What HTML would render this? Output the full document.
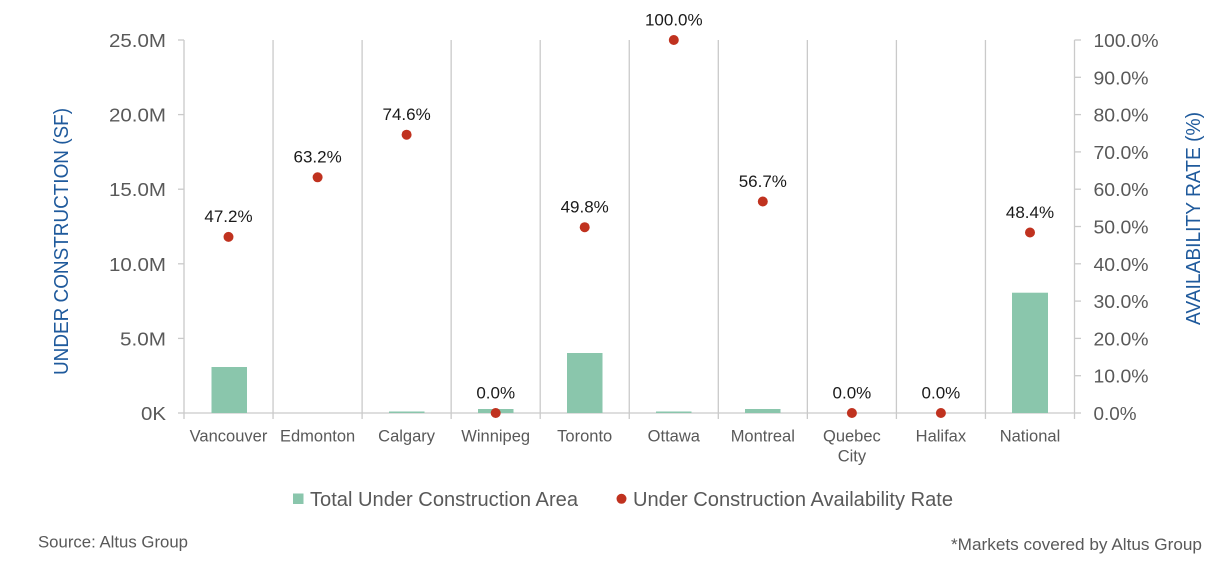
<!DOCTYPE html>
<html>
<head>
<meta charset="utf-8">
<style>
html,body{margin:0;padding:0;background:#fff;}
svg{display:block;}
text{font-family:"Liberation Sans",Arial,sans-serif;}
</style>
</head>
<body>
<svg width="1226" height="562" viewBox="0 0 1226 562" xmlns="http://www.w3.org/2000/svg">
<rect width="1226" height="562" fill="#fff"/>
<!-- grid / separators -->
<g stroke="#cacaca" stroke-width="1.3" fill="none">
  <line x1="184" y1="40" x2="184" y2="419"/>
  <line x1="1074.5" y1="40" x2="1074.5" y2="419"/>
  <line x1="273.05" y1="40" x2="273.05" y2="419"/>
  <line x1="362.1" y1="40" x2="362.1" y2="419"/>
  <line x1="451.15" y1="40" x2="451.15" y2="419"/>
  <line x1="540.2" y1="40" x2="540.2" y2="419"/>
  <line x1="629.25" y1="40" x2="629.25" y2="419"/>
  <line x1="718.3" y1="40" x2="718.3" y2="419"/>
  <line x1="807.35" y1="40" x2="807.35" y2="419"/>
  <line x1="896.4" y1="40" x2="896.4" y2="419"/>
  <line x1="985.45" y1="40" x2="985.45" y2="419"/>
  <line x1="184" y1="413" x2="1074.5" y2="413"/>
  <!-- left ticks -->
  <line x1="178" y1="40" x2="184" y2="40"/>
  <line x1="178" y1="114.6" x2="184" y2="114.6"/>
  <line x1="178" y1="189.2" x2="184" y2="189.2"/>
  <line x1="178" y1="263.8" x2="184" y2="263.8"/>
  <line x1="178" y1="338.4" x2="184" y2="338.4"/>
  <line x1="178" y1="413" x2="184" y2="413"/>
  <!-- right ticks -->
  <line x1="1074.5" y1="40" x2="1081" y2="40"/>
  <line x1="1074.5" y1="77.3" x2="1081" y2="77.3"/>
  <line x1="1074.5" y1="114.6" x2="1081" y2="114.6"/>
  <line x1="1074.5" y1="151.9" x2="1081" y2="151.9"/>
  <line x1="1074.5" y1="189.2" x2="1081" y2="189.2"/>
  <line x1="1074.5" y1="226.5" x2="1081" y2="226.5"/>
  <line x1="1074.5" y1="263.8" x2="1081" y2="263.8"/>
  <line x1="1074.5" y1="301.1" x2="1081" y2="301.1"/>
  <line x1="1074.5" y1="338.4" x2="1081" y2="338.4"/>
  <line x1="1074.5" y1="375.7" x2="1081" y2="375.7"/>
  <line x1="1074.5" y1="413" x2="1081" y2="413"/>
</g>

<!-- left tick labels -->
<g fill="#595959" font-size="18" text-anchor="end">
  <text x="166" y="47" textLength="57" lengthAdjust="spacingAndGlyphs">25.0M</text>
  <text x="166" y="121.6" textLength="57" lengthAdjust="spacingAndGlyphs">20.0M</text>
  <text x="166" y="196.2" textLength="57" lengthAdjust="spacingAndGlyphs">15.0M</text>
  <text x="166" y="270.8" textLength="57" lengthAdjust="spacingAndGlyphs">10.0M</text>
  <text x="166" y="345.4" textLength="46" lengthAdjust="spacingAndGlyphs">5.0M</text>
  <text x="166" y="420" textLength="25" lengthAdjust="spacingAndGlyphs">0K</text>
</g>
<!-- right tick labels -->
<g fill="#595959" font-size="18">
  <text x="1093.5" y="47" textLength="65" lengthAdjust="spacingAndGlyphs">100.0%</text>
  <text x="1093.5" y="84.3" textLength="55" lengthAdjust="spacingAndGlyphs">90.0%</text>
  <text x="1093.5" y="121.6" textLength="55" lengthAdjust="spacingAndGlyphs">80.0%</text>
  <text x="1093.5" y="158.9" textLength="55" lengthAdjust="spacingAndGlyphs">70.0%</text>
  <text x="1093.5" y="196.2" textLength="55" lengthAdjust="spacingAndGlyphs">60.0%</text>
  <text x="1093.5" y="233.5" textLength="55" lengthAdjust="spacingAndGlyphs">50.0%</text>
  <text x="1093.5" y="270.8" textLength="55" lengthAdjust="spacingAndGlyphs">40.0%</text>
  <text x="1093.5" y="308.1" textLength="55" lengthAdjust="spacingAndGlyphs">30.0%</text>
  <text x="1093.5" y="345.4" textLength="55" lengthAdjust="spacingAndGlyphs">20.0%</text>
  <text x="1093.5" y="382.7" textLength="55" lengthAdjust="spacingAndGlyphs">10.0%</text>
  <text x="1093.5" y="420" textLength="43" lengthAdjust="spacingAndGlyphs">0.0%</text>
</g>

<!-- axis titles -->
<text transform="translate(68,241.5) rotate(-90)" text-anchor="middle" font-size="20" fill="#1f5a9c" textLength="267" lengthAdjust="spacingAndGlyphs">UNDER CONSTRUCTION (SF)</text>
<text transform="translate(1200,218.5) rotate(-90)" text-anchor="middle" font-size="20" fill="#1f5a9c" textLength="213" lengthAdjust="spacingAndGlyphs">AVAILABILITY RATE (%)</text>

<!-- bars -->
<g fill="#8ac6ac">
  <rect x="211.5" y="367" width="35.5" height="46"/>
  <rect x="389" y="411.5" width="35.5" height="1.5"/>
  <rect x="478" y="409" width="35.5" height="4"/>
  <rect x="567" y="353" width="35.5" height="60"/>
  <rect x="656" y="411.5" width="35.5" height="1.5"/>
  <rect x="745" y="409" width="35.5" height="4"/>
  <rect x="1012" y="292.7" width="36" height="120.3"/>
</g>

<!-- dots -->
<g fill="#c0321f">
  <circle cx="228.5" cy="236.9" r="5"/>
  <circle cx="317.6" cy="177.3" r="5"/>
  <circle cx="406.6" cy="134.7" r="5"/>
  <circle cx="495.7" cy="413" r="5"/>
  <circle cx="584.7" cy="227.2" r="5"/>
  <circle cx="673.8" cy="40" r="5"/>
  <circle cx="762.8" cy="201.5" r="5"/>
  <circle cx="851.9" cy="413" r="5"/>
  <circle cx="940.9" cy="413" r="5"/>
  <circle cx="1030" cy="232.5" r="5"/>
</g>

<!-- data labels -->
<g fill="#1a1a1a" font-size="17" text-anchor="middle">
  <text x="228.5" y="222">47.2%</text>
  <text x="317.6" y="162.5">63.2%</text>
  <text x="406.6" y="120">74.6%</text>
  <text x="495.7" y="398.3">0.0%</text>
  <text x="584.7" y="212.5">49.8%</text>
  <text x="673.8" y="25.3">100.0%</text>
  <text x="762.8" y="186.8">56.7%</text>
  <text x="851.9" y="398.3">0.0%</text>
  <text x="940.9" y="398.3">0.0%</text>
  <text x="1030" y="217.8">48.4%</text>
</g>

<!-- category labels -->
<g fill="#595959" font-size="16.5" text-anchor="middle">
  <text x="228.5" y="441.5">Vancouver</text>
  <text x="317.6" y="441.5">Edmonton</text>
  <text x="406.6" y="441.5">Calgary</text>
  <text x="495.7" y="441.5">Winnipeg</text>
  <text x="584.7" y="441.5">Toronto</text>
  <text x="673.8" y="441.5">Ottawa</text>
  <text x="762.8" y="441.5">Montreal</text>
  <text x="851.9" y="441.5">Quebec</text>
  <text x="851.9" y="461.5">City</text>
  <text x="940.9" y="441.5">Halifax</text>
  <text x="1030" y="441.5">National</text>
</g>

<!-- legend -->
<rect x="293" y="493.5" width="10.5" height="10.5" fill="#8ac6ac"/>
<text x="310" y="506" font-size="20" fill="#595959" textLength="268" lengthAdjust="spacingAndGlyphs">Total Under Construction Area</text>
<circle cx="621.5" cy="498.8" r="5" fill="#c0321f"/>
<text x="633" y="506" font-size="20" fill="#595959" textLength="320" lengthAdjust="spacingAndGlyphs">Under Construction Availability Rate</text>

<!-- footer -->
<text x="38" y="547.3" font-size="17" fill="#595959" textLength="150" lengthAdjust="spacingAndGlyphs">Source: Altus Group</text>
<text x="1202" y="550" font-size="17" fill="#595959" text-anchor="end" textLength="251" lengthAdjust="spacingAndGlyphs">*Markets covered by Altus Group</text>
</svg>
</body>
</html>
